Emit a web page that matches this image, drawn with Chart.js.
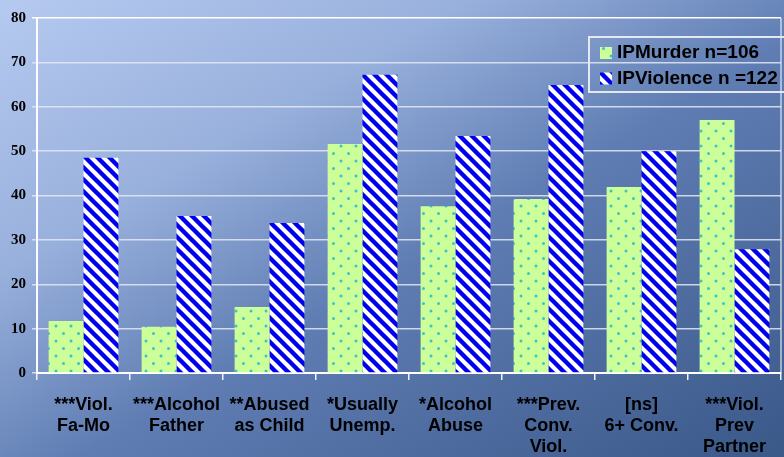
<!DOCTYPE html>
<html>
<head>
<title>IP Murder vs IP Violence</title>
<script src="https://cdn.jsdelivr.net/npm/chart.js"></script>
<style>
    html, body { margin: 0; padding: 0; overflow: hidden; }
</style>
</head>
<body>
<canvas id="myChart" width="784" height="457"></canvas>

<script>
var categories = [
    ['***Viol.', 'Fa-Mo'],
    ['***Alcohol', 'Father'],
    ['**Abused', 'as Child'],
    ['*Usually', 'Unemp.'],
    ['*Alcohol', 'Abuse'],
    ['***Prev.', 'Conv.', 'Viol.'],
    ['[ns]', '6+ Conv.'],
    ['***Viol.', 'Prev', 'Partner']
];
var murderLabel = 'IPMurder n=106';
var violenceLabel = 'IPViolence n =122';
var murderValues = [11.7, 10.4, 14.9, 51.6, 37.6, 39.2, 41.9, 57.0];
var violenceValues = [48.5, 35.4, 33.8, 67.2, 53.4, 64.9, 50.0, 27.9];
var yTicks = [0, 10, 20, 30, 40, 50, 60, 70, 80];

// dotted green fill
function dotPattern() {
    var c = document.createElement('canvas');
    c.width = 15; c.height = 15;
    var g = c.getContext('2d');
    g.fillStyle = '#ccff99';
    g.fillRect(0, 0, 15, 15);
    g.fillStyle = '#3cc4c4';
    g.beginPath(); g.arc(3.5, 3.5, 1.5, 0, Math.PI * 2); g.fill();
    g.beginPath(); g.arc(11, 11, 1.5, 0, Math.PI * 2); g.fill();
    return g.createPattern(c, 'repeat');
}

// blue/white diagonal stripes
function stripePattern() {
    var s = 12;
    var c = document.createElement('canvas');
    c.width = s; c.height = s;
    var g = c.getContext('2d');
    g.fillStyle = '#ffffff';
    g.fillRect(0, 0, s, s);
    g.strokeStyle = '#0000ee';
    g.lineWidth = 4.4;
    g.beginPath();
    g.moveTo(-s, -s); g.lineTo(2 * s, 2 * s);
    g.moveTo(-s, 0); g.lineTo(s, 2 * s);
    g.moveTo(0, -s); g.lineTo(2 * s, s);
    g.stroke();
    return g.createPattern(c, 'repeat');
}

var backdrop = {
    id: 'backdrop',
    beforeDraw: function(chart) {
        var c = chart.ctx;
        var grad = c.createLinearGradient(0, 0, 398, 682);
        grad.addColorStop(0, '#b6caf0');
        grad.addColorStop(0.3, '#98b0dc');
        grad.addColorStop(0.55, '#5f7db3');
        grad.addColorStop(1, '#3a5888');
        c.save();
        c.fillStyle = grad;
        c.fillRect(0, 0, chart.width, chart.height);
        c.restore();
    },
    afterDraw: function(chart) {
        var c = chart.ctx;
        var a = chart.chartArea;
        c.save();
        // right frame line
        c.strokeStyle = 'rgba(225,230,240,0.8)';
        c.lineWidth = 1.5;
        c.beginPath();
        c.moveTo(a.right, a.top);
        c.lineTo(a.right, a.bottom);
        c.stroke();

        // legend box
        c.strokeStyle = '#e4e8f0';
        c.lineWidth = 2;
        c.strokeRect(589, 37, 210, 55);
        c.font = 'bold 19px "Liberation Sans", Arial, sans-serif';
        c.textBaseline = 'middle';
        var ds = chart.data.datasets;
        var rows = [53, 78.5];
        for (var i = 0; i < ds.length; i++) {
            c.fillStyle = ds[i].backgroundColor;
            c.fillRect(600, rows[i] - 6, 12, 12);
            c.fillStyle = '#000';
            c.fillText(ds[i].label, 617, rows[i]);
        }
        c.restore();
    }
};

var ctx = document.getElementById('myChart').getContext('2d');

var chart = new Chart(ctx, {
    type: 'bar',
    data: {
        labels: categories,
        datasets: [{
            label: murderLabel,
            data: murderValues,
            backgroundColor: dotPattern(),
            borderWidth: 0
        }, {
            label: violenceLabel,
            data: violenceValues,
            backgroundColor: stripePattern(),
            borderWidth: 0
        }]
    },
    options: {
        responsive: false,
        animation: false,
        devicePixelRatio: 1,
        layout: { padding: { top: 18, right: 3, left: 0, bottom: 0 } },
        datasets: {
            bar: { categoryPercentage: 0.75, barPercentage: 1 }
        },
        plugins: {
            legend: { display: false },
            tooltip: { enabled: false }
        },
        scales: {
            x: {
                grid: {
                    offset: true,
                    drawOnChartArea: false,
                    drawTicks: true,
                    tickLength: 7,
                    color: '#f0f2f8',
                    lineWidth: 1.5
                },
                border: { color: '#ffffff', width: 2 },
                ticks: {
                    color: '#000',
                    padding: 14,
                    maxRotation: 0,
                    autoSkip: false,
                    font: { family: '"Liberation Sans", Arial, sans-serif', size: 18, weight: 'bold', lineHeight: 1.18 }
                },
                afterFit: function(scale) { scale.height = 84; }
            },
            y: {
                min: 0,
                max: 80,
                afterBuildTicks: function(scale) {
                    scale.ticks = yTicks.map(function(v) { return { value: v }; });
                },
                grid: {
                    color: function(c) { return c.tick && c.tick.value === 80 ? '#ffffff' : 'rgba(228,233,243,0.85)'; },
                    lineWidth: 1.5,
                    tickLength: 5
                },
                border: { color: '#ffffff', width: 2 },
                ticks: {
                    color: '#000',
                    padding: 6,
                    font: { family: '"Liberation Serif", "Times New Roman", serif', size: 15, weight: 'bold' }
                },
                afterFit: function(scale) { scale.width = 37; }
            }
        }
    },
    plugins: [backdrop]
});
</script>
</body>
</html>
